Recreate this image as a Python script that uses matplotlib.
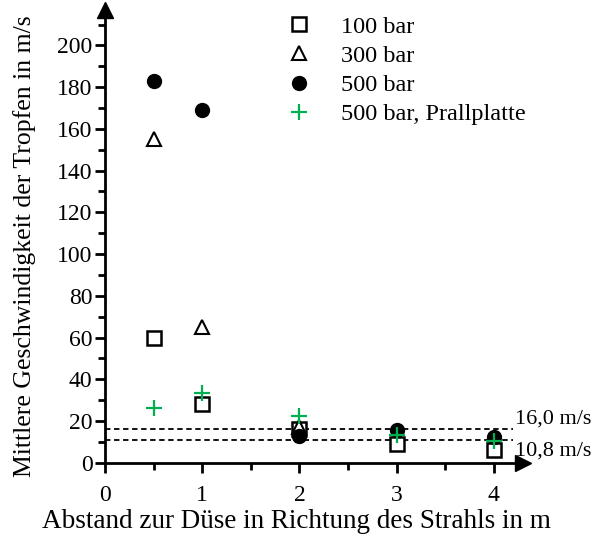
import matplotlib
matplotlib.use("Agg")
import matplotlib.pyplot as plt
from matplotlib.ticker import MultipleLocator

plt.rcParams['font.family'] = ['Liberation Serif', 'DejaVu Serif']

x100 = [0.5, 1, 2, 3, 4]
y100 = [60, 28, 16, 9, 6]
x300 = [0.5, 1, 2]
y300 = [155, 65, 17]
x500 = [0.5, 1, 2, 3, 4]
y500 = [183, 169, 13, 15.5, 12.5]
xpp = [0.5, 1, 2, 3, 4]
ypp = [26, 33.5, 22.5, 13.5, 10.5]
ref_lines = [16.0, 10.8]
ref_labels = ["16,0 m/s", "10,8 m/s"]
xticks = [0, 1, 2, 3, 4]
yticks = [0, 20, 40, 60, 80, 100, 120, 140, 160, 180, 200]

W, H = 598, 535
fig = plt.figure(figsize=(W/100, H/100), dpi=100)
ax = fig.add_axes([105/W, (H-462.7)/H, (523-105)/W, (462.7-10)/H])
ax.set_xlim(0, 4.3)
ax.set_ylim(0, 217)

for spine in ['top', 'right']:
    ax.spines[spine].set_visible(False)
for spine in ['left', 'bottom']:
    ax.spines[spine].set_linewidth(2)
ax.plot(1, 0, '>', color='black', markersize=11, transform=ax.transAxes, clip_on=False)
ax.plot(0, 1, '^', color='black', markersize=11, transform=ax.transAxes, clip_on=False)

ax.set_xticks(xticks)
ax.set_yticks(yticks)
ax.xaxis.set_minor_locator(MultipleLocator(0.5))
ax.yaxis.set_minor_locator(MultipleLocator(10))
ax.tick_params(which='major', direction='out', length=7, width=2, labelsize=17)
ax.tick_params(axis='x', which='major', pad=9)
ax.tick_params(axis='y', which='major', pad=2)
ax.tick_params(which='minor', direction='out', length=5, width=2)

ax.plot([0, 4.2], [ref_lines[0]] * 2, ls=(0, (3, 2)), color='black', lw=1.3)
ax.plot([0, 4.2], [ref_lines[1]] * 2, ls=(0, (3, 2)), color='black', lw=1.3)
ax.text(4.22, ref_lines[0] + 0.5, ref_labels[0], fontsize=16, va='bottom', ha='left', clip_on=False)
ax.text(4.22, ref_lines[1] - 0.5, ref_labels[1], fontsize=16, va='top', ha='left', clip_on=False)

ms = 10
ax.plot(x100, y100, 's', mfc='white', mec='black', mew=1.8, ms=ms, ls='none', label='100 bar')
ax.plot(x300, y300, '^', mfc='white', mec='black', mew=1.5, ms=ms, ls='none', label='300 bar')
ax.plot(x500, y500, 'o', color='black', ms=ms, ls='none', label='500 bar')
ax.plot(xpp, ypp, '+', color='#00B050', mew=1.6, ms=ms + 2, ls='none', label='500 bar, Prallplatte')

ax.legend(loc='upper left', bbox_to_anchor=((260-105)/(523-105), 1.02), frameon=False,
          fontsize=17.5, handletextpad=0.75, labelspacing=0.3, borderaxespad=0.2)

ax.set_xlabel('Abstand zur Düse in Richtung des Strahls in m', fontsize=19.5)
ax.xaxis.set_label_coords((296-105)/(523-105), -(522-462.7)/(462.7-10), transform=ax.transAxes)
ax.xaxis.label.set_va('center')
ax.set_ylabel('Mittlere Geschwindigkeit der Tropfen in m/s', fontsize=18.5)
ax.yaxis.set_label_coords(-(105-25)/(523-105), (462.7-246)/(462.7-10), transform=ax.transAxes)
ax.yaxis.label.set_va('center')

fig.savefig('out.png', dpi=100)
